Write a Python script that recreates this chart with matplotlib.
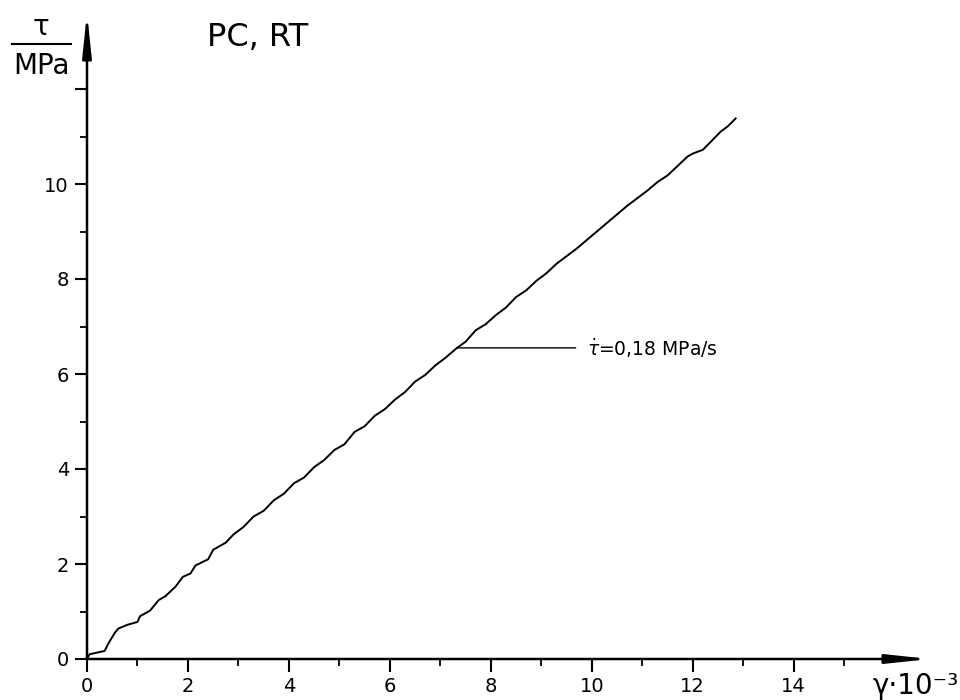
import numpy as np
import matplotlib
matplotlib.use('Agg')
import matplotlib.pyplot as plt
from matplotlib.lines import Line2D

plt.rcParams['font.family'] = ['DejaVu Sans']

# shear strain (x 10^-3) and shear stress (MPa)
gamma = [0.00, 0.05, 0.35, 0.42, 0.55, 0.62, 0.80, 1.00, 1.05, 1.25, 1.42, 1.55,
         1.75, 1.90, 2.05, 2.15, 2.40, 2.50, 2.75, 2.90, 3.10, 3.30, 3.50, 3.70,
         3.90, 4.10, 4.30, 4.50, 4.70, 4.90, 5.10, 5.30, 5.50, 5.70, 5.90, 6.10,
         6.30, 6.50, 6.70, 6.90, 7.10, 7.33, 7.50, 7.70, 7.90, 8.10, 8.30, 8.50,
         8.70, 8.90, 9.10, 9.30, 9.50, 9.70, 9.90, 10.10, 10.30, 10.50, 10.70,
         10.90, 11.10, 11.30, 11.50, 11.70, 11.90, 12.00, 12.20, 12.35, 12.55,
         12.70, 12.85]
tau = [0.00, 0.10, 0.17, 0.32, 0.55, 0.64, 0.72, 0.78, 0.90, 1.02, 1.24, 1.32,
       1.52, 1.73, 1.80, 1.97, 2.10, 2.30, 2.45, 2.62, 2.78, 3.00, 3.12, 3.34,
       3.48, 3.70, 3.82, 4.04, 4.19, 4.40, 4.52, 4.78, 4.90, 5.12, 5.26, 5.46,
       5.62, 5.84, 5.98, 6.18, 6.34, 6.55, 6.68, 6.92, 7.05, 7.24, 7.40, 7.62,
       7.76, 7.96, 8.12, 8.32, 8.48, 8.64, 8.82, 9.00, 9.18, 9.36, 9.54,
       9.70, 9.86, 10.04, 10.18, 10.38, 10.58, 10.64, 10.72, 10.88, 11.10,
       11.22, 11.38]
label_index = 41  # point where the rate label is attached

x_major = [0, 2, 4, 6, 8, 10, 12, 14]
x_minor = [1, 3, 5, 7, 9, 11, 13, 15]
y_major = [0, 2, 4, 6, 8, 10, 12]
y_labels = ['0', '2', '4', '6', '8', '10', '']
y_minor = [1, 3, 5, 7, 9, 11]

fig = plt.figure(figsize=(9.6, 7), dpi=100)
ax = fig.add_axes([87 / 960, 41 / 700, 843 / 960, 646 / 700])
ax.set_xlim(0, 16.7)
ax.set_ylim(0, 13.6)

ax.plot(gamma, tau, color='black', lw=1.4, solid_joinstyle='round')

for s in ax.spines.values():
    s.set_visible(False)

arrow = dict(arrowstyle='-|>,head_length=1.7,head_width=0.18', color='black',
             lw=1.8, mutation_scale=15, shrinkA=0, shrinkB=0)
ax.annotate('', xy=(1, 0), xytext=(0, 0), xycoords='axes fraction',
            arrowprops=arrow, annotation_clip=False)
ax.annotate('', xy=(0, 1), xytext=(0, 0), xycoords='axes fraction',
            arrowprops=arrow, annotation_clip=False)

ax.set_xticks(x_major)
ax.set_xticks(x_minor, minor=True)
ax.set_yticks(y_major)
ax.set_yticklabels(y_labels)
ax.set_yticks(y_minor, minor=True)
ax.tick_params(which='major', direction='out', length=9, width=1.5,
               labelsize=14, pad=4)
ax.tick_params(which='minor', direction='out', length=5, width=1.3)

ax.annotate(r'$\dot{\tau}$=0,18 MPa/s', xy=(gamma[label_index], tau[label_index]),
            xytext=(9.9, tau[label_index]), va='center', ha='left', fontsize=13.5,
            arrowprops=dict(arrowstyle='-', color='black', lw=1.0,
                            shrinkA=6, shrinkB=0))

fig.text(207 / 960, 1 - 38 / 700, 'PC, RT', fontsize=23, va='center', ha='left')
fig.text(873 / 960, 1 - 686 / 700, 'γ·10⁻³', fontsize=20, va='center', ha='left')
fig.text(41 / 960, 1 - 27 / 700, 'τ', fontsize=20, va='center', ha='center')
fig.add_artist(Line2D([12 / 960, 71 / 960], [1 - 44 / 700] * 2,
                      transform=fig.transFigure, color='black', lw=1.5))
fig.text(41 / 960, 1 - 66 / 700, 'MPa', fontsize=20, va='center', ha='center')

fig.savefig('out.png', dpi=100)
